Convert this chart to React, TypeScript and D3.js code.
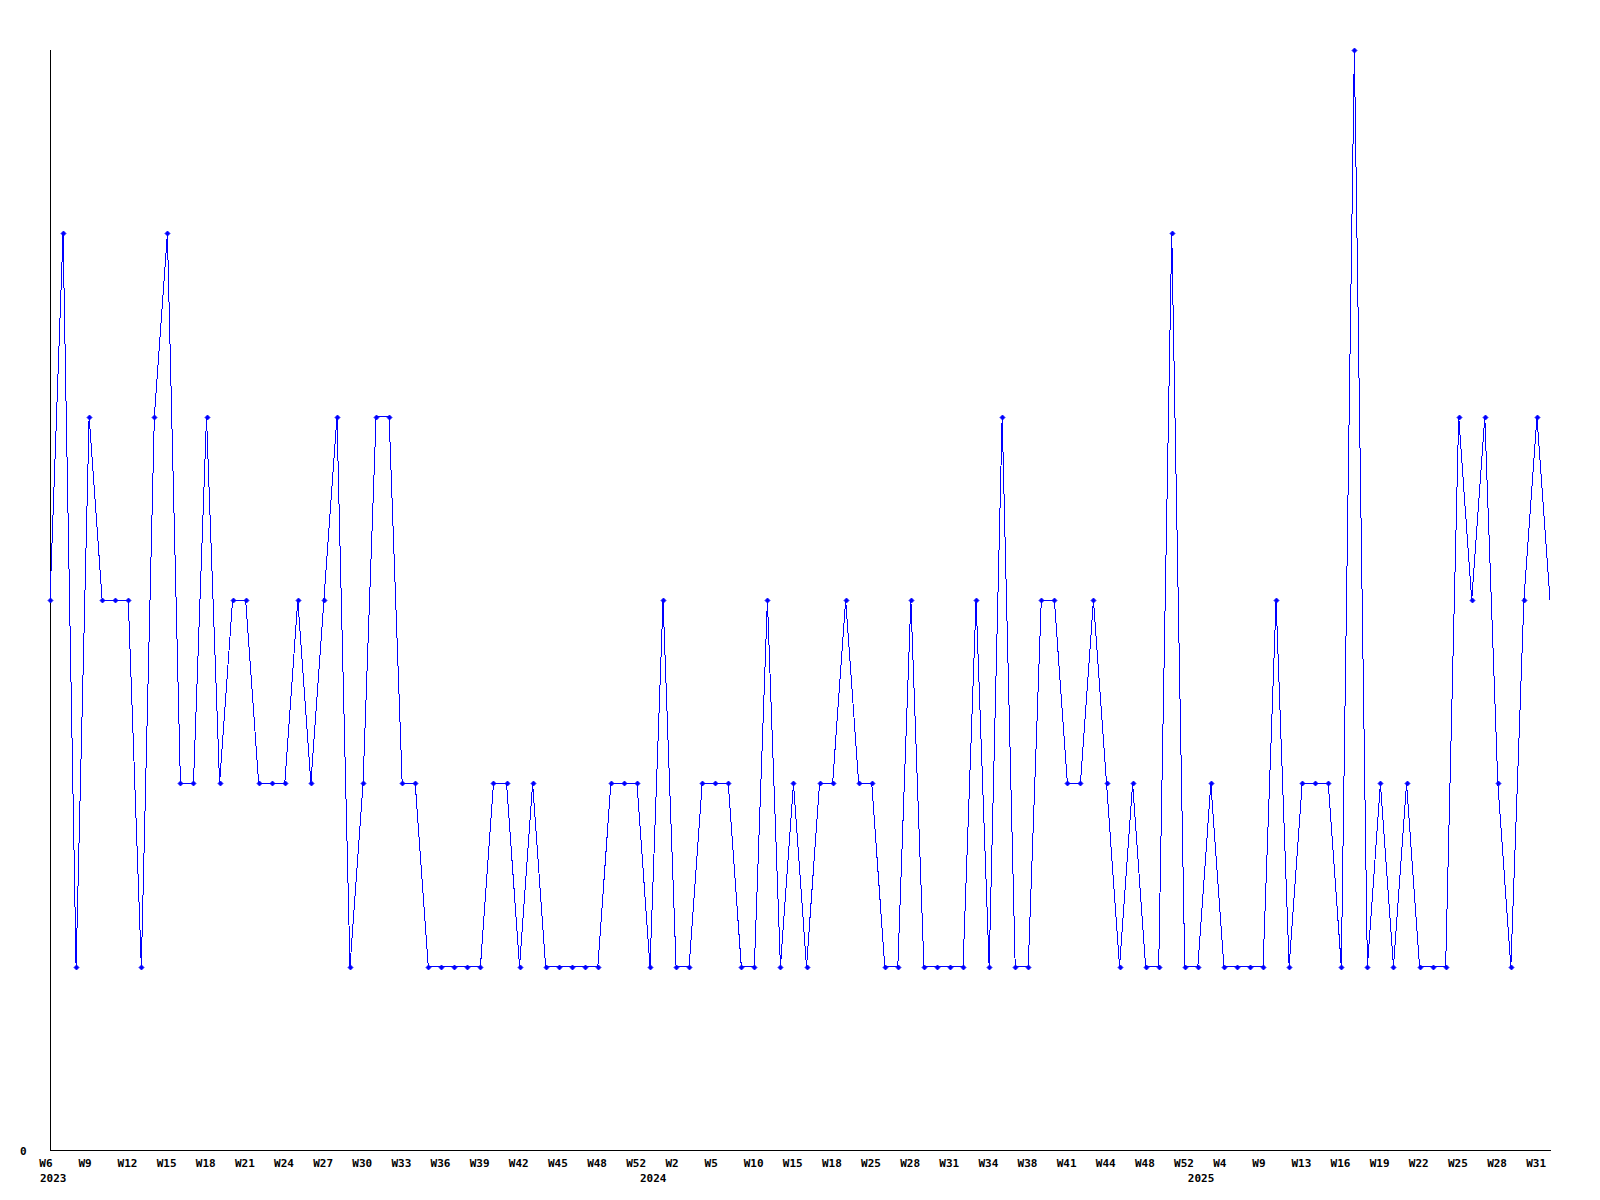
import React from "react";
import * as d3 from "d3";

const weeks2023 = [
  "W6","W7","W8","W9","W10","W11","W12","W13","W14","W15","W16","W17","W18","W19","W20","W21","W22","W23","W24","W25","W26","W27","W28","W29","W30","W31","W32","W33","W34","W35","W36","W37","W38","W39","W40","W41","W42","W43","W44","W45","W46","W47","W48","W49","W51","W52",
];
const values2023 = [
  3,5,1,4,3,3,3,1,4,5,
  2,2,4,2,3,3,2,2,2,3,
  2,3,4,1,2,4,4,2,2,1,
  1,1,1,1,2,2,1,2,1,1,
  1,1,1,2,2,2,
];
const weeks2024 = [
  "W0","W1","W2","W3","W4","W5","W7","W9","W10","W12","W13","W15","W16","W17","W18","W20","W22","W25","W26","W27","W28","W29","W30","W31","W32","W33","W34","W35","W36","W38","W39","W40","W41","W42","W43","W44","W45","W46","W48","W49","W50","W52",
];
const values2024 = [
  1,3,1,1,2,2,2,1,1,3,
  1,2,1,2,2,3,2,2,1,1,
  3,1,1,1,1,3,1,4,1,1,
  3,3,2,2,3,2,1,2,1,1,
  5,1,
];
const weeks2025 = [
  "W1","W3","W4","W6","W7","W9","W10","W12","W13","W14","W15","W16","W17","W18","W19","W20","W21","W22","W23","W24","W25","W26","W27","W28","W29","W30","W31","W32",
];
const values2025 = [
  1,2,1,1,1,1,3,1,2,2,
  2,1,6,1,2,1,2,1,1,1,
  4,3,4,2,1,3,4,3,
];
const years = ["2023", "2024", "2025"];
const yTicks = [0];

type Pt = { key: string; week: string; year: string; value: number; first: boolean };

const groups = [
  { year: years[0], weeks: weeks2023, values: values2023 },
  { year: years[1], weeks: weeks2024, values: values2024 },
  { year: years[2], weeks: weeks2025, values: values2025 },
];

const points: Pt[] = [];
groups.forEach((g) => {
  g.weeks.forEach((w, i) => {
    points.push({ key: g.year + "-" + w, week: w, year: g.year, value: g.values[i], first: i === 0 });
  });
});

const W = 1600;
const H = 1200;
const left = 50;
const right = 1550;
const top = 50;
const bottom = 1150;
const FONT = "'DejaVu Sans Mono', monospace";

export default function App() {
  const x = d3.scalePoint<string>().domain(points.map((p) => p.key)).range([left, right]);
  const y = d3.scaleLinear().domain([0, 6]).range([bottom, top]);
  const line = d3
    .line<Pt>()
    .x((p) => x(p.key) as number)
    .y((p) => y(p.value));

  const tickPts = points.filter((_, i) => i % 3 === 0);
  const yearPts = points.filter((p) => p.first);

  return (
    <svg
      width={W}
      height={H}
      style={{ position: "absolute", left: 0, top: 0, background: "#fff" }}
    >
      <rect x={0} y={0} width={W} height={H} fill="#fff" />
      <line x1={left + 0.5} x2={left + 0.5} y1={top} y2={bottom + 0.5} stroke="#000" strokeWidth={1} shapeRendering="crispEdges" />
      <line x1={left} x2={right + 0.5} y1={bottom + 0.5} y2={bottom + 0.5} stroke="#000" strokeWidth={1} shapeRendering="crispEdges" />
      {yTicks.map((t) => (
        <text key={t} x={20} y={y(t) + 4.5} fontFamily={FONT} fontWeight="bold" fontSize={11} fill="#000">
          {t}
        </text>
      ))}
      {tickPts.map((p) => (
        <text key={p.key} x={(x(p.key) as number) - 10.7} y={1167} fontFamily={FONT} fontWeight="bold" fontSize={11} fill="#000">
          {p.week}
        </text>
      ))}
      {yearPts.map((p) => (
        <text key={"y" + p.key} x={(x(p.key) as number) - 10} y={1181.5} fontFamily={FONT} fontWeight="bold" fontSize={11} fill="#000">
          {p.year}
        </text>
      ))}
      <path d={line(points) || ""} fill="none" stroke="#0000ff" strokeWidth={1} shapeRendering="crispEdges" />
      {points.slice(0, points.length - 1).map((p) => {
        const cx = Math.round(x(p.key) as number) + 0.5;
        const cy = Math.round(y(p.value)) + 0.5;
        return (
          <path
            key={"m" + p.key}
            d={`M${cx - 2.5},${cy}L${cx},${cy - 2.5}L${cx + 2.5},${cy}L${cx},${cy + 2.5}Z`}
            fill="#0000ff"
            stroke="#0000ff"
            strokeWidth={0.8}
          />
        );
      })}
    </svg>
  );
}
